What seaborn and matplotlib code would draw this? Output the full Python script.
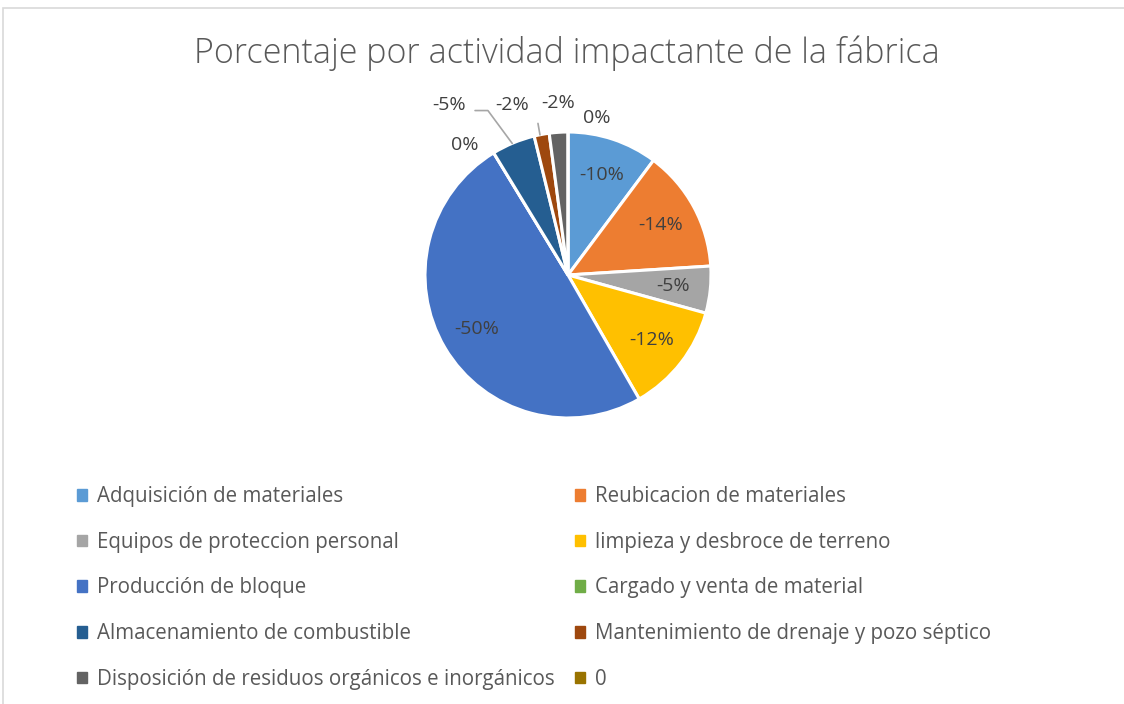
import numpy as np
import matplotlib
matplotlib.use('Agg')
import matplotlib.pyplot as plt
import matplotlib.patches as mpatches
import seaborn as sns

sns.set_theme(style='white')
plt.rcParams['font.family'] = ['Open Sans', 'DejaVu Sans']

# datos (porcentaje, signo negativo en las etiquetas)
actividades = ['Adquisición de materiales', 'Reubicacion de materiales',
               'Equipos de proteccion personal', 'limpieza y desbroce de terreno',
               'Producción de bloque', 'Cargado y venta de material',
               'Almacenamiento de combustible', 'Mantenimiento de drenaje y pozo séptico',
               'Disposición de residuos orgánicos e inorgánicos', '0']
porcentajes = [10.2, 13.8, 5.3, 12.4, 49.6, 0.0, 4.9, 1.7, 2.1, 0.0]
etiquetas = ['-10%', '-14%', '-5%', '-12%', '-50%', '0%', '-5%', '-2%', '-2%', '0%']
colores = sns.color_palette(['#5B9BD5', '#ED7D31', '#A5A5A5', '#FFC000', '#4472C4',
                             '#70AD47', '#255E91', '#9E480E', '#636363', '#997300'])

fig = plt.figure(figsize=(11.24, 7.04), dpi=100)
fig.patches.append(mpatches.Rectangle((3/1124, -0.1), 1.2, 1.1 - 8/704, transform=fig.transFigure,
                                      fill=False, edgecolor='#D9D9D9', linewidth=1.2))

fig.text(567/1124, 1 - 53/704, 'Porcentaje por actividad impactante de la fábrica',
         ha='center', va='center', fontsize=24.5, color='#595959', fontweight='light')

ax = fig.add_axes([425/1124, 1 - 418/704, 286/1124, 286/704])
wedges, _ = ax.pie(porcentajes, colors=colores, startangle=90, counterclock=False,
                   wedgeprops=dict(edgecolor='white', linewidth=2.2), radius=1)
ax.set_xlim(-1, 1)
ax.set_ylim(-1, 1)
ax.set_aspect('equal')
ax.axis('off')

# etiquetas dentro de las porciones grandes
for i in range(5):
    w = wedges[i]
    ang = np.deg2rad((w.theta1 + w.theta2) / 2)
    r = 0.74
    ax.text(r * np.cos(ang), r * np.sin(ang), etiquetas[i], ha='center', va='center',
            fontsize=14, color='#404040')

# etiquetas fuera para las porciones pequeñas
pos_fuera = {5: (-0.72, 0.91), 6: (-0.83, 1.19), 7: (-0.39, 1.19),
             8: (-0.07, 1.20), 9: (0.20, 1.10)}
for i, (tx, ty) in pos_fuera.items():
    ax.text(tx, ty, etiquetas[i], ha='center', va='center', fontsize=14,
            color='#404040', clip_on=False)

# líneas guía
ax.plot([-0.39, -0.56, -0.65], [0.92, 1.15, 1.15], color='#A6A6A6', lw=1.2, clip_on=False)
ax.plot([-0.196, -0.21], [0.98, 1.06], color='#A6A6A6', lw=1.2, clip_on=False)

# leyenda en dos columnas (orden por filas)
for col, x in enumerate([77/1124, 575/1124]):
    idx = list(range(col, 10, 2))
    handles = [mpatches.Patch(color=colores[j]) for j in idx]
    fig.legend(handles, [actividades[j] for j in idx], loc='upper left',
               bbox_to_anchor=(x, 1 - 486/704), frameon=False, fontsize=14.8,
               labelcolor='#595959', handlelength=0.5, handleheight=0.5,
               handletextpad=0.45, labelspacing=1.2, borderaxespad=0, borderpad=0)

fig.savefig('out.png', dpi=100, facecolor='white')
